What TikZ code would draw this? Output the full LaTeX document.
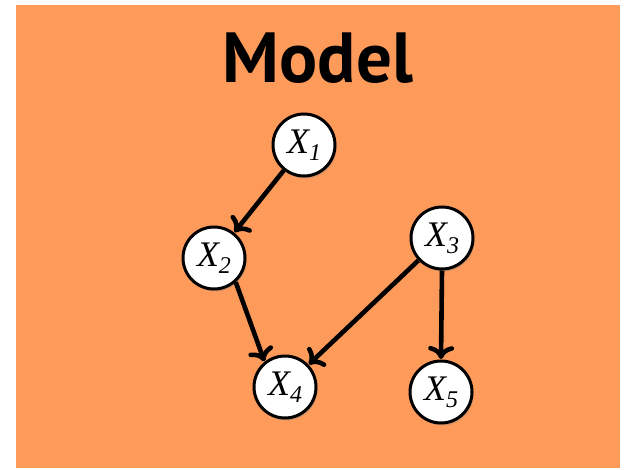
\documentclass[tikz,border=0pt]{standalone}
\usepackage{fontspec}
\setmainfont{Liberation Serif}
\newfontfamily\titlefont{PT Sans}
\usetikzlibrary{arrows.meta,shadows}
\definecolor{bgorange}{RGB}{255,155,90}
\newcommand{\varlab}[1]{{\fontsize{36}{36}\selectfont\itshape X\raisebox{-0.2em}{\fontsize{24}{24}\selectfont #1}}}
\tikzset{
  var/.style={circle, draw=black, line width=3pt, fill=white, minimum size=62pt, inner sep=0pt,
    drop shadow={opacity=0.35, shadow xshift=1.5pt, shadow yshift=-2.5pt}},
  link/.style={line width=4.6pt, -{Computer Modern Rightarrow[length=13pt,width=26pt,line width=4.6pt]}, shorten >=0.5pt}
}
\begin{document}
\begin{tikzpicture}[x=1pt,y=-1pt]
\useasboundingbox (0,0) rectangle (628,470);
\fill[bgorange] (16,5) rectangle (620,468);
\node[anchor=base, inner sep=0pt] (title) at (318,83) {\titlefont\bfseries\fontsize{71}{71}\selectfont Model};
\node[var] (x1) at (304,145) {\varlab{1}};
\node[var] (x2) at (214,258) {\varlab{2}};
\node[var] (x3) at (442,238) {\varlab{3}};
\node[var] (x4) at (285,387) {\varlab{4}};
\node[var] (x5) at (441,392) {\varlab{5}};
\draw[link] (x1) -- (x2);
\draw[link] (x2.-48) -- (x4.129);
\draw[link] (x3) -- (x4);
\draw[link] (x3.south) -- (x5.north);
\end{tikzpicture}
\end{document}
